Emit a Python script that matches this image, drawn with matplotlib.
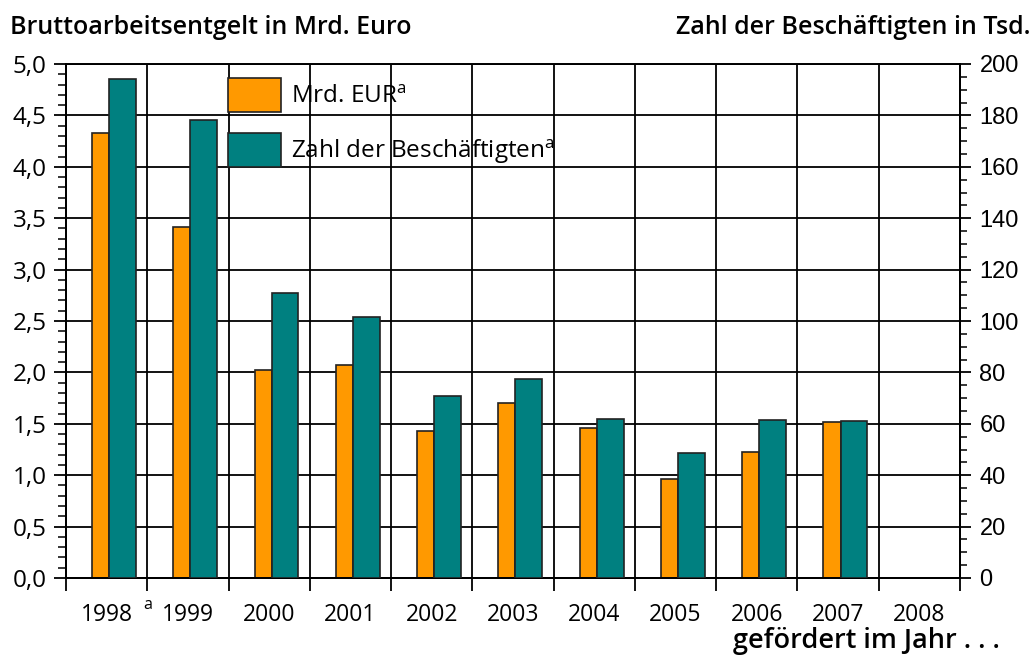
import matplotlib
matplotlib.use("Agg")
import matplotlib.pyplot as plt
import matplotlib.transforms as mtransforms
import numpy as np

# data
years = ["1998", "1999", "2000", "2001", "2002", "2003", "2004", "2005", "2006", "2007", "2008"]
mrd_eur = [4.33, 3.41, 2.02, 2.07, 1.43, 1.70, 1.46, 0.96, 1.23, 1.52, np.nan]
beschaeftigte = [194.3, 178.2, 111.0, 101.7, 70.7, 77.4, 61.7, 48.8, 61.4, 61.2, np.nan]

orange = "#FF9900"
teal = "#008080"

plt.rcParams['font.family'] = ['Open Sans', 'DejaVu Sans']
plt.rcParams['mathtext.fontset'] = 'custom'
plt.rcParams['mathtext.rm'] = 'Open Sans'

fig = plt.figure(figsize=(10.34, 6.57), dpi=100)
ax = fig.add_axes([66/1034, 1-578/657, (960-66)/1034, (578-64)/657])
ax2 = ax.twinx()

x = np.arange(len(years))
b1 = ax.bar(x - 0.18, mrd_eur, width=0.21, align='edge', color=orange,
            edgecolor='#222222', linewidth=1.2, zorder=3)
b2 = ax2.bar(x + 0.03, beschaeftigte, width=0.33, align='edge', color=teal,
             edgecolor='#222222', linewidth=1.2, zorder=3)

ax.set_xlim(-0.5, len(years) - 0.5)
ax.set_ylim(0, 5.0)
ax2.set_ylim(0, 200)

# left axis
ax.set_yticks(np.arange(0, 5.01, 0.5))
ax.set_yticklabels([f"{v:.1f}".replace(".", ",") for v in np.arange(0, 5.01, 0.5)])
ax.set_yticks(np.arange(0, 5.01, 0.1), minor=True)
ax.tick_params(axis='y', which='major', length=9, width=1.3, labelsize=17.5, pad=5)
ax.tick_params(axis='y', which='minor', length=6, width=1.1)

# right axis
ax2.set_yticks(np.arange(0, 201, 20))
ax2.set_yticks(np.arange(0, 201, 5), minor=True)
ax2.tick_params(axis='y', which='major', length=8, width=1.3, labelsize=17, pad=6)
ax2.tick_params(axis='y', which='minor', length=5, width=1.1)
for lab in ax2.get_yticklabels():
    lab.set_family(['Liberation Sans', 'DejaVu Sans'])

# x axis: boundaries as major ticks, years at centers
ax.set_xticks(np.arange(-0.5, len(years), 1.0))
ax.set_xticklabels([])
ax.set_xticks(x, minor=True)
ax.set_xticklabels(years, minor=True)
ax.tick_params(axis='x', which='major', length=9, width=1.3, direction='out')
ax.tick_params(axis='x', which='minor', length=0, labelsize=16.5, pad=18)

ax.grid(True, which='major', color='black', linewidth=1.3)
ax.set_axisbelow(True)

for a in (ax, ax2):
    for s in a.spines.values():
        s.set_linewidth(1.4)
        s.set_color('black')
ax2.spines['top'].set_visible(False)

# footnote marker between 1998 and 1999
trans = mtransforms.blended_transform_factory(ax.transData, ax.transAxes)
ax.text(0.5, -0.052, "a", transform=trans, ha='center', va='center', fontsize=11.5)

leg = ax2.legend([b1, b2], ["Mrd. EUR$^{\\mathrm{a}}$", "Zahl der Beschäftigten$^{\\mathrm{a}}$"],
                 loc='upper left', bbox_to_anchor=(228/1034, 1-78/657),
                 bbox_transform=fig.transFigure, frameon=False, fontsize=17.5,
                 borderpad=0, borderaxespad=0, handlelength=2.2, handleheight=1.75,
                 labelspacing=0.9, handletextpad=0.4)

fig.text(10/1034, 1-28/657, "Bruttoarbeitsentgelt in Mrd. Euro", ha='left', va='center',
         fontsize=18, fontweight='semibold')
fig.text(1030/1034, 1-28/657, "Zahl der Beschäftigten in Tsd.", ha='right', va='center',
         fontsize=18, fontweight='semibold')
fig.text(1000/1034, 1-641/657, "gefördert im Jahr . . .", ha='right', va='center',
         fontsize=19.5, fontweight='semibold')

fig.savefig("out.png", dpi=100)
